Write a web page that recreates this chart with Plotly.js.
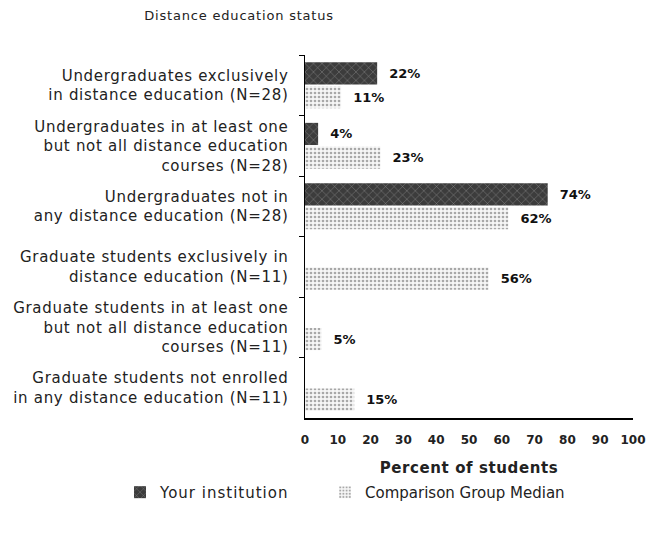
<!DOCTYPE html>
<html>
<head>
<meta charset="utf-8">
<script src="https://cdn.plot.ly/plotly-3.0.1.min.js"></script>
<style>
html,body{margin:0;padding:0;background:#fff;}
#chart{width:666px;height:535px;}
#chart .ytick text{letter-spacing:0.7px;}
#chart .legendtext{letter-spacing:1px;}
#chart .gtitle{letter-spacing:0.8px;}
#chart .xtitle{letter-spacing:0.6px;}
</style>
</head>
<body>
<div id="chart"></div>
<script>
const categories = [
  "Undergraduates exclusively<br>in distance education (N=28)",
  "Undergraduates in at least one<br>but not all distance education<br>courses (N=28)",
  "Undergraduates not in<br>any distance education (N=28)",
  "Graduate students exclusively in<br>distance education (N=11)",
  "Graduate students in at least one<br>but not all distance education<br>courses (N=11)",
  "Graduate students not enrolled<br>in any distance education (N=11)"
];
const yourInstitution = [22, 4, 74, null, null, null];
const comparisonMedian = [11, 23, 62, 56, 5, 15];
const seriesNames = ["Your institution", "Comparison Group Median"];
const xTicks = [0, 10, 20, 30, 40, 50, 60, 70, 80, 90, 100];

const fmt = v => (v === null ? "" : "\u00a0\u00a0" + v + "%");
const FONT = "DejaVu Sans";

const traces = [
  {
    type: "bar", orientation: "h", name: seriesNames[0], legend: "legend",
    y: categories, x: yourInstitution,
    text: yourInstitution.map(fmt), textposition: "outside", cliponaxis: false,
    textfont: {family: FONT, size: 13, color: "#111", weight: "bold"},
    marker: {color: "#4a4a4a", line: {width: 0},
      pattern: {shape: "x", fgcolor: "#8a8a8a", bgcolor: "#3c3c3c", size: 6, solidity: 0.15}},
    hoverinfo: "skip"
  },
  {
    type: "bar", orientation: "h", name: seriesNames[1], legend: "legend2",
    y: categories, x: comparisonMedian,
    text: comparisonMedian.map(fmt), textposition: "outside", cliponaxis: false,
    textfont: {family: FONT, size: 13, color: "#111", weight: "bold"},
    marker: {color: "#e0e0e0", line: {width: 0},
      pattern: {shape: ".", fgcolor: "#a8a8a8", bgcolor: "#f6f6f6", size: 4, solidity: 0.35}},
    hoverinfo: "skip"
  }
];

const legendFont = {family: FONT, size: 15, color: "#222"};
const layout = {
  width: 666, height: 535,
  paper_bgcolor: "#fff", plot_bgcolor: "#fff",
  margin: {l: 305, r: 33, t: 55, b: 117},
  font: {family: FONT, size: 13, color: "#222"},
  title: {text: "Distance education status", x: 0.359, xanchor: "center", xref: "container",
    y: 0.972, yanchor: "middle", yref: "container", font: {family: FONT, size: 13, color: "#222"}},
  barmode: "group", bargap: 0.22, bargroupgap: 0.06,
  showlegend: true,
  legend: {orientation: "h", xref: "paper", yref: "paper", x: -0.564, xanchor: "left",
    y: -0.205, yanchor: "middle", font: legendFont, entrywidth: 150},
  legend2: {orientation: "h", xref: "paper", yref: "paper", x: 0.061, xanchor: "left",
    y: -0.205, yanchor: "middle", font: legendFont, entrywidth: 245},
  xaxis: {
    range: [0, 100], tickvals: xTicks, ticktext: xTicks.map(String),
    showgrid: false, zeroline: false, showline: true, linecolor: "#000", linewidth: 1.5,
    ticks: "", ticklabelstandoff: 10,
    tickfont: {family: FONT, size: 12, color: "#222", weight: "bold"},
    title: {text: "Percent of students", standoff: 16, font: {family: FONT, size: 15, color: "#222", weight: "bold"}},
    fixedrange: true
  },
  yaxis: {
    type: "category", autorange: "reversed", showgrid: false, zeroline: false,
    showline: true, linecolor: "#000", linewidth: 1.5,
    ticks: "outside", ticklen: 5, tickcolor: "#000", tickson: "boundaries",
    ticklabelstandoff: 12,
    tickfont: {family: FONT, size: 15, color: "#222"}, fixedrange: true
  }
};

Plotly.newPlot("chart", traces, layout, {displayModeBar: false, staticPlot: true});
</script>
</body>
</html>
